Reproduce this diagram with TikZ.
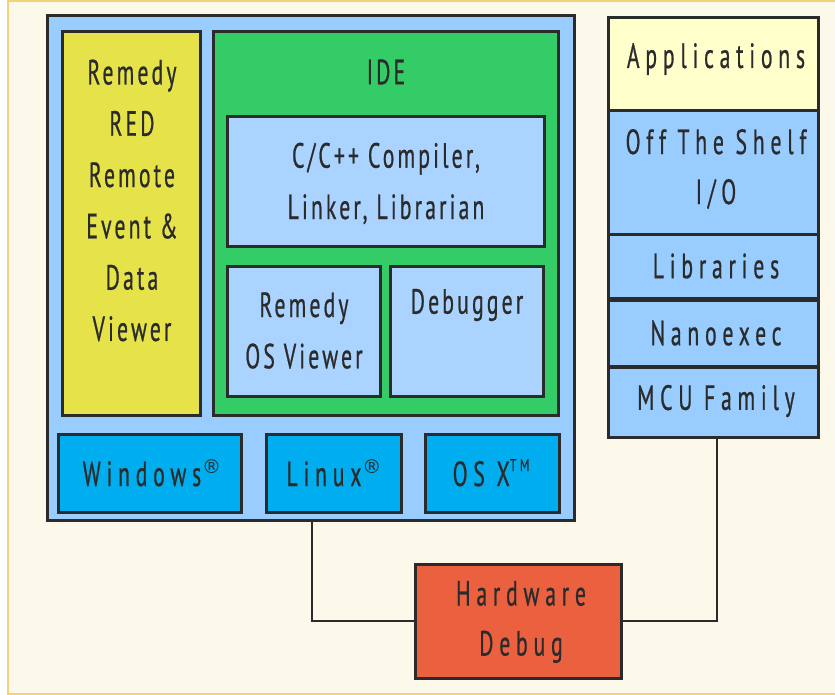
\documentclass[tikz,border=0pt]{standalone}
\usepackage{fontspec}
\setmainfont{PT Sans}[FakeStretch=0.62,FakeBold=0.6,LetterSpace=9]
\newfontfamily\spacedfont{PT Sans}[FakeStretch=0.62,FakeBold=0.6,LetterSpace=16.5]
\newfontfamily\markfont{DejaVu Sans}
\newfontfamily\tmfont{PT Sans}[FakeStretch=0.7,FakeBold=0.4,LetterSpace=20]
\definecolor{bgcream}{HTML}{FCF8EA}
\definecolor{bgframe}{HTML}{F3D37A}
\definecolor{outerblue}{HTML}{99CCFF}
\definecolor{paleblue}{HTML}{AAD4FF}
\definecolor{redyellow}{HTML}{E6E34A}
\definecolor{idegreen}{HTML}{33CC66}
\definecolor{osblue}{HTML}{00AEEF}
\definecolor{appyellow}{HTML}{FFFFCC}
\definecolor{hwred}{HTML}{EB6140}
\definecolor{ink}{HTML}{2B2B2B}
\newcommand\regmark{\kern1pt\raisebox{13pt}{\markfont\fontsize{19}{19}\selectfont ®}}
\newcommand\tmmark{\raisebox{15pt}{\tmfont\fontsize{17}{17}\selectfont TM}}
\begin{document}
\begin{tikzpicture}[x=1pt,y=-1pt,
  box/.style={draw=ink,line width=3pt,inner sep=0pt,outer sep=0pt},
  lbl/.style={text=ink,inner sep=0pt,align=center,font=\fontsize{35}{51.3}\selectfont},
  slbl/.style={text=ink,inner sep=0pt,align=center,font=\spacedfont\fontsize{35}{50}\selectfont},
  wire/.style={draw=ink,line width=2.5pt}]
\useasboundingbox (0,0) rectangle (835,695);
\fill[bgcream] (8,1) rectangle (840,694);
\draw[bgframe,line width=2.5pt] (8,1) rectangle (840,694);
% boxes: corners
\newcommand\bx[6]{\node[box,fill=#2,minimum width=#5-#3,minimum height=#6-#4] (#1) at ({(#3+#5)/2},{(#4+#6)/2}) {};}
\bx{host}{outerblue}{47}{16}{574}{520}
\bx{red}{redyellow}{62}{32}{200}{415}
\bx{ide}{idegreen}{213}{32}{558}{415}
\bx{comp}{paleblue}{227}{117}{544}{246}
\bx{osv}{paleblue}{227}{266}{380}{396}
\bx{dbg}{paleblue}{390}{266}{543}{396}
\bx{win}{osblue}{58}{434}{241}{512}
\bx{lin}{osblue}{266}{434}{401}{512}
\bx{osx}{osblue}{425}{434}{559}{512}
\bx{app}{appyellow}{608}{18}{818}{111}
\bx{ots}{outerblue}{608}{111}{818}{234}
\bx{lib}{outerblue}{608}{234}{818}{298}
\bx{nano}{outerblue}{608}{300}{818}{366}
\bx{mcu}{outerblue}{608}{367}{818}{437}
\bx{hw}{hwred}{415}{564}{621}{678}
% labels
\node[lbl] (redT) at (132,200.5) {Remedy\\RED\\Remote\\Event \&\\Data\\Viewer};
\node[lbl] (ideT) at (386,72) {IDE};
\node[lbl] (compT) at (386,183.5) {C/C++ Compiler,\\Linker, Librarian};
\node[lbl] (osvT) at (304,330.5) {Remedy\\OS Viewer};
\node[lbl] (dbgT) at (467,305) {Debugger};
\node[slbl,anchor=base] (winT) at (152,486) {Windows\regmark};
\node[slbl,anchor=base] (linT) at (334,486) {Linux\regmark};
\node[slbl,anchor=base] (osxT) at (491,486) {OS X\tmmark};
\node[slbl] (appT) at (716,59) {Applications};
\node[slbl] (otsT) at (716,169) {Off The Shelf\\I/O};
\node[slbl] (libT) at (716,266) {Libraries};
\node[slbl] (nanoT) at (716,333) {Nanoexec};
\node[slbl] (mcuT) at (716,401) {MCU Family};
\node[slbl] (hwT) at (521,622) {Hardware\\Debug};
% connectors
\coordinate (linkA) at (312,520);
\coordinate (linkB) at (717,437);
\draw[wire] (linkA) |- (hw.west);
\draw[wire] (linkB) |- (hw.east);
\end{tikzpicture}
\end{document}
